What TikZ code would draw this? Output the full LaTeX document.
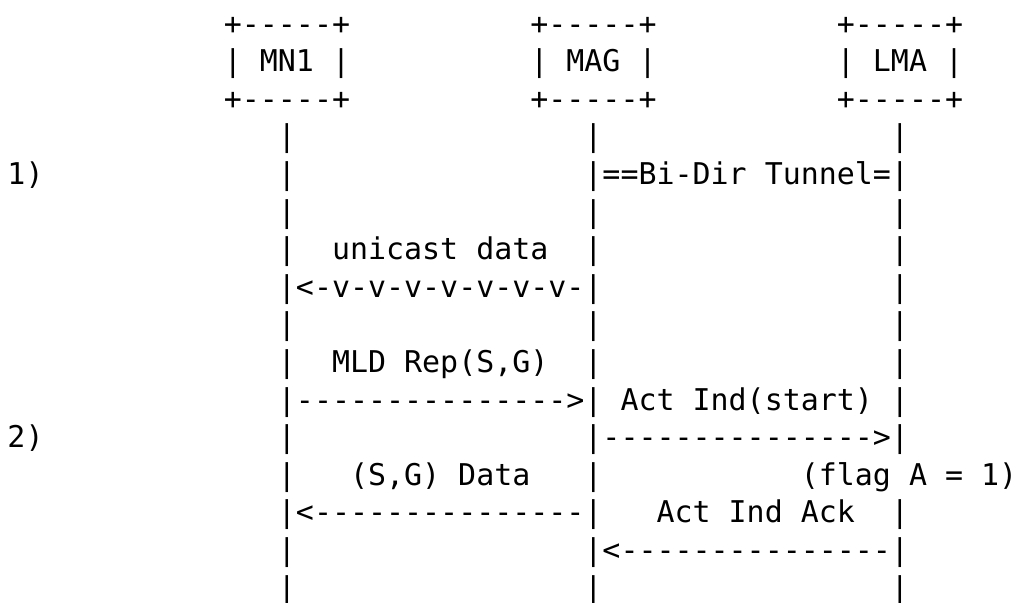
\documentclass[tikz,border=0pt]{standalone}
\usepackage{fontspec}
\setmonofont{DejaVu Sans Mono}
\begin{document}
\begin{tikzpicture}[x=9.015pt,y=-18.8pt,
  txt/.style={anchor=base west,inner sep=0pt,outer sep=0pt,
    font=\ttfamily\fontsize{14.975pt}{18.8pt}\selectfont}]
\path[use as bounding box,fill=white] (0pt,0pt) rectangle (507pt,-301pt);
\begin{scope}[shift={(3.75pt,-17.05pt)}]
% boxes
\node[txt] (mn1t) at (12,0) {+-----+};
\node[txt] (magt) at (29,0) {+-----+};
\node[txt] (lmat) at (46,0) {+-----+};
\node[txt] (mn1) at (12,1) {| MN1 |};
\node[txt] (mag) at (29,1) {| MAG |};
\node[txt] (lma) at (46,1) {| LMA |};
\node[txt] (mn1b) at (12,2) {+-----+};
\node[txt] (magb) at (29,2) {+-----+};
\node[txt] (lmab) at (46,2) {+-----+};
% plain life-line bars
\foreach \r/\c in {3/15,3/32,3/49, 4/15, 5/15,5/32,5/49,
                   6/15,6/32,6/49, 7/49, 8/15,8/32,8/49,
                   9/15,9/32,9/49, 10/49, 11/15, 12/15,12/32,
                   13/49, 14/15, 15/15,15/32,15/49}
  \node[txt] (bar-\r-\c) at (\c,\r) {|};
% step labels
\node[txt] (s1) at (0,4) {1)};
\node[txt] (s2) at (0,11) {2)};
% messages
\node[txt] (tunnel) at (32,4) {|==Bi-Dir Tunnel=|};
\node[txt] (ucl) at (18,6) {unicast data};
\node[txt] (uc) at (15,7) {|<-v-v-v-v-v-v-v-|};
\node[txt] (mldl) at (18,9) {MLD Rep(S,G)};
\node[txt] (mld) at (15,10) {|--------------->|};
\node[txt] (actl) at (34,10) {Act Ind(start)};
\node[txt] (act) at (32,11) {|--------------->|};
\node[txt] (sgl) at (19,12) {(S,G) Data};
\node[txt] (flag) at (44,12) {(flag A = 1)};
\node[txt] (sg) at (15,13) {|<---------------|};
\node[txt] (ackl) at (36,13) {Act Ind Ack};
\node[txt] (ack) at (32,14) {|<---------------|};
\end{scope}
\end{tikzpicture}
\end{document}
